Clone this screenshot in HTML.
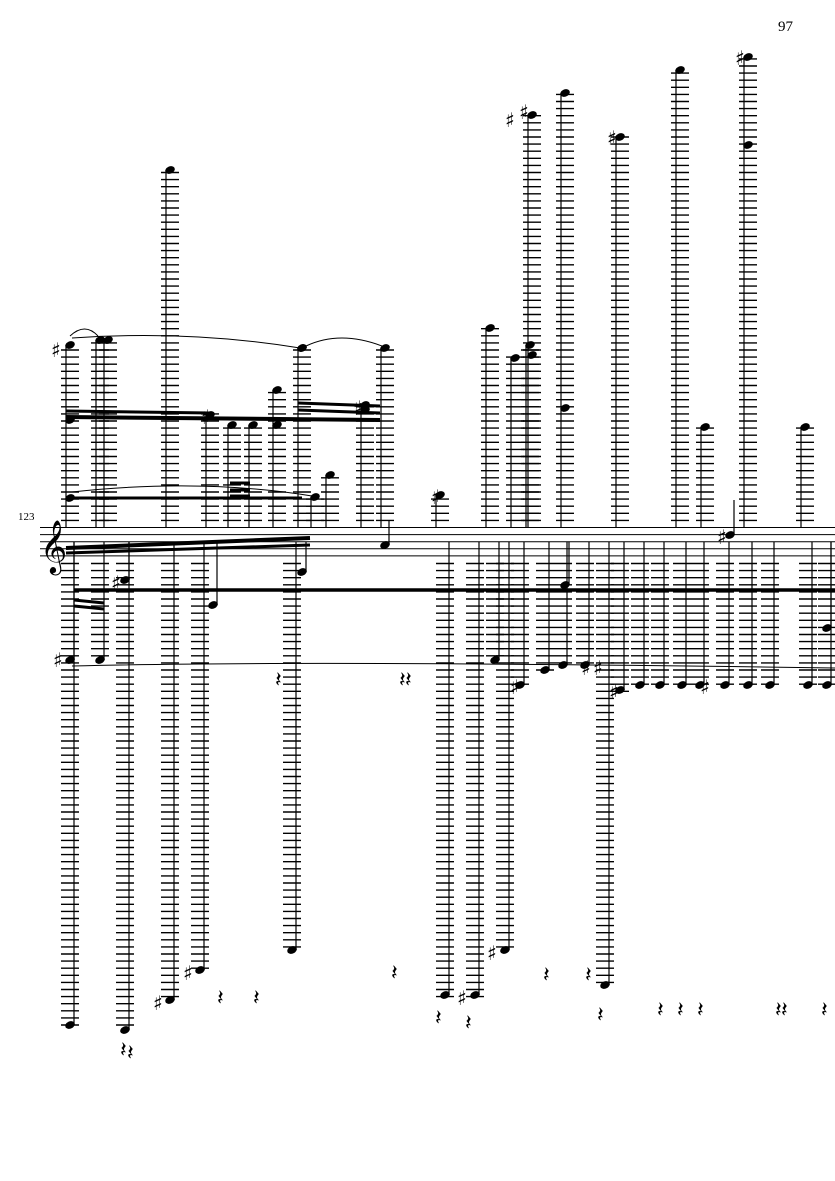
<!DOCTYPE html><html><head><meta charset="utf-8"><style>body{margin:0;background:#fff}svg{display:block}</style></head><body>
<svg id="s" width="835" height="1181" xmlns="http://www.w3.org/2000/svg" font-family="Liberation Serif, serif">
<text x="778" y="31" font-size="15">97</text>
<text x="18" y="520" font-size="11">123</text>
<text x="40" y="562" font-size="46">𝄞</text>
</svg>
<script>
var s=document.getElementById('s'),h='';
function L(x1,y1,x2,y2,w){h+='<line x1="'+x1+'" y1="'+y1+'" x2="'+x2+'" y2="'+y2+'" stroke="#000" stroke-width="'+w+'"/>';}
function N(x,y){h+='<ellipse cx="'+x+'" cy="'+y+'" rx="5" ry="3.6" transform="rotate(-25 '+x+' '+y+')" fill="#000"/>';}
for(var i=0;i<5;i++)L(40,527.5+i*7.1,835,527.5+i*7.1,1);
var up=[[70,345],[100,340],[108,340],[170,170],[210,415],[232,425],[253,425],[277,390],[302,348],[315,497],[330,475],[365,405],[385,348],[440,495],[490,328],[515,358],[530,345],[532,115],[565,93],[620,137],[680,70],[705,427],[748,57],[805,427]];
var extraUp=[[70,420],[70,498],[277,425],[532,355],[565,408],[748,145],[365,410],[302,348]];
up.forEach(function(p){var x=p[0],y=p[1];for(var yy=520.4;yy>=y-2;yy-=7.1)L(x-9,yy,x+9,yy,1.4);N(x,y);L(x-4,y,x-4,527,1.2);});
extraUp.forEach(function(p){N(p[0],p[1]);});
var dn=[[70,1025],[100,660],[125,1030],[170,1000],[200,970],[292,950],[445,995],[475,995],[495,660],[505,950],[520,685],[545,670],[563,665],[585,665],[605,985],[620,690],[640,685],[660,685],[682,685],[700,685],[725,685],[748,685],[770,685],[808,685],[827,685]];
var extraDn=[[125,580],[213,605],[302,572],[565,585],[827,628],[70,660]];
dn.forEach(function(p){var x=p[0],y=p[1];for(var yy=563.5;yy<=y+2;yy+=7.1)L(x-9,yy,x+9,yy,1.4);N(x,y);L(x+4,y,x+4,542,1.2);});
extraDn.forEach(function(p){N(p[0],p[1]);L(p[0]+4,p[1],p[0]+4,542,1.2);});
N(730,535);L(734,535,734,500,1.2);N(385,545);L(389,545,389,520,1.2);
L(66,417,380,420,4);L(66,411,210,413,3);L(298,403,380,406,3);L(298,410,380,413,3);
L(66,498,302,498,3);L(66,548,310,538,4);L(66,553,310,545,3);L(74,590,835,590,3.5);
L(74,600,104,603,3);L(74,606,104,609,3);L(230,483,250,483,3);L(230,490,250,490,3);L(230,496,250,496,3);
h+='<path d="M72,338 Q190,330 300,348" fill="none" stroke="#000"/><path d="M306,346 Q340,330 382,346" fill="none" stroke="#000"/>';
h+='<path d="M72,492 Q200,478 312,496" fill="none" stroke="#000"/><path d="M72,666 Q300,660 835,668" fill="none" stroke="#000"/>';
h+='<path d="M70,336 Q85,322 98,336" fill="none" stroke="#000"/>';
[[58,350],[208,417],[438,497],[512,120],[526,112],[614,138],[742,58],[724,537],[360,408],[118,583],[160,1003],[190,973],[464,998],[494,953],[60,660],[517,687],[588,668],[616,692],[707,687],[600,668]].forEach(function(p){h+='<text x="'+(p[0]-7)+'" y="'+(p[1]+7)+'" font-size="20" font-weight="bold" font-family="DejaVu Sans">♯</text>';});
[[280,677],[404,677],[410,677],[222,995],[258,995],[396,970],[440,1015],[470,1020],[548,972],[590,972],[602,1012],[662,1007],[682,1007],[702,1007],[780,1007],[786,1007],[826,1007],[125,1047],[132,1050]].forEach(function(p){h+='<text x="'+(p[0]-5)+'" y="'+(p[1]+10)+'" font-size="22" font-family="DejaVu Sans">𝄽</text>';});
s.insertAdjacentHTML('beforeend',h);
</script></body></html>
